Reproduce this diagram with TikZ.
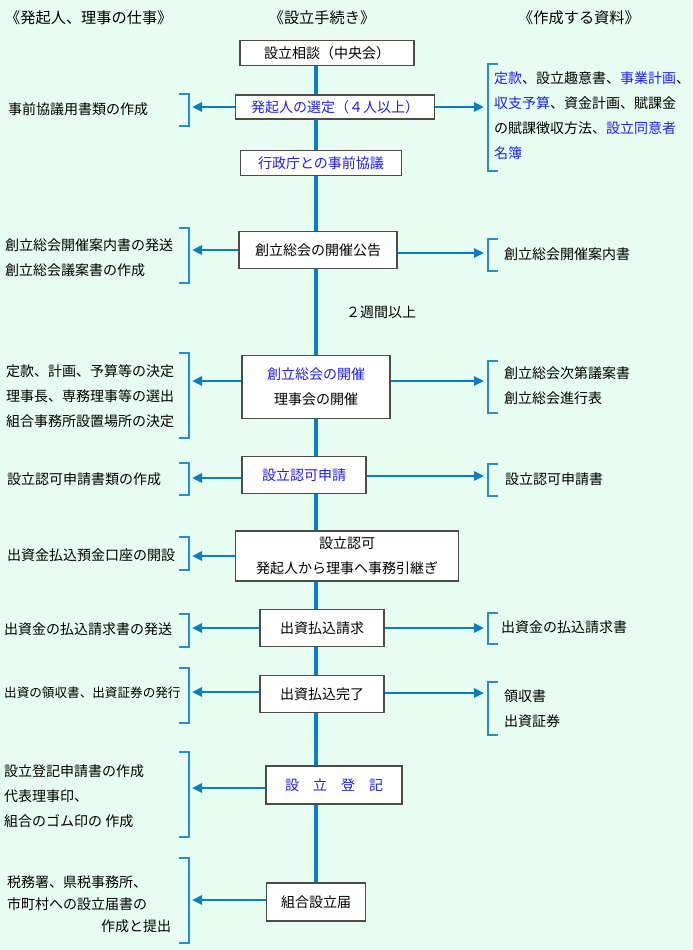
\documentclass[tikz,border=0pt]{standalone}
\usepackage{fontspec}
\setmainfont{Noto Sans CJK JP}
\usetikzlibrary{arrows.meta, backgrounds}

\definecolor{bgmint}{RGB}{232,253,242}
\definecolor{flowblue}{RGB}{8,126,200}
\definecolor{brblue}{RGB}{40,140,210}
\definecolor{jpblue}{RGB}{30,30,240}

\begin{document}
\begin{tikzpicture}[
  x=1pt, y=-1pt,
  font=\fontsize{14}{25}\selectfont,
  box/.style={rectangle, draw=black!70, line width=1.3pt, fill=white,
              align=center, inner sep=0pt},
  txt/.style={anchor=west, align=left, inner sep=0pt},
  head/.style={font=\fontsize{15.2}{18}\selectfont, inner sep=0pt},
  trunk/.style={draw=flowblue, line width=4pt},
  arr/.style={draw=flowblue, line width=2.5pt, -{Triangle[length=10pt,width=9pt]}},
  brl/.style={draw=brblue, line width=1.3pt},
]

% bounding box
\useasboundingbox (0,0) rectangle (693,950);

% ================= HEADINGS =================
\node[head, anchor=west] (hleft)  at (5,18)   {《発起人、理事の仕事》};
\node[head]              (hmid)   at (322,18) {《設立手続き》};
\node[head]              (hright) at (579,18) {《作成する資料》};

% ================= NODES (explicit coords, px) =================
\node[box, minimum width=174pt, minimum height=25pt] (soudan)   at (327,53)  {設立相談（中央会）};
\node[box, minimum width=199pt, minimum height=24pt, text=jpblue] (sentei) at (335,107) {発起人の選定（４人以上）};
\node[box, minimum width=161pt, minimum height=25pt, text=jpblue] (kyougi) at (321,163) {行政庁との事前協議};
\node[box, minimum width=158pt, minimum height=37pt] (koukoku)  at (318,250) {創立総会の開催公告};
\node[box, minimum width=148pt, minimum height=63pt] (kaisai)   at (316,387) {\textcolor{jpblue}{創立総会の開催}\\理事会の開催};
\node[box, minimum width=124pt, minimum height=37pt, text=jpblue] (shinsei) at (304,475) {設立認可申請};
\node[box, minimum width=223pt, minimum height=50pt] (ninka)    at (347,556) {設立認可\\発起人から理事へ事務引継ぎ};
\node[box, minimum width=124pt, minimum height=37pt] (seikyu)   at (322,628) {出資払込請求};
\node[box, minimum width=124pt, minimum height=37pt] (kanryo)   at (322,694) {出資払込完了};
\node[box, minimum width=136pt, minimum height=38pt, text=jpblue] (touki) at (334,785) {設　立　登　記};
\node[box, minimum width=99pt,  minimum height=38pt] (todoke)   at (316,902) {組合設立届};

\node[inner sep=0pt] (nishuu) at (381,312) {２週間以上};

% trunk ends
\coordinate (ttop) at (316,66);
\coordinate (tbot) at (316,883);

% ---- left column texts
\node[txt] (lsentei)  at (8,109) {事前協議用書類の作成};
\node[txt] (lkoukoku) at (5,258) {創立総会開催案内書の発送\\創立総会議案書の作成};
\node[txt] (lkaisai)  at (6,396) {定款、計画、予算等の決定\\理事長、専務理事等の選出\\組合事務所設置場所の決定};
\node[txt] (lshinsei) at (7,479) {設立認可申請書類の作成};
\node[txt] (lninka)   at (7,555) {出資金払込預金口座の開設};
\node[txt] (lseikyu)  at (4,629) {出資金の払込請求書の発送};
\node[txt, font=\fontsize{12.6}{25}\selectfont] (lkanryo) at (4,693) {出資の領収書、出資証券の発行};
\node[txt] (ltouki)   at (4,796) {設立登記申請書の作成\\代表理事印、\\組合のゴム印の 作成};
\node[txt, text width=164pt, font=\fontsize{14}{22}\selectfont] (ltodoke) at (7,904)
  {税務署、県税事務所、\\市町村への設立届書の\\\hspace*{\fill}作成と提出};

% ---- right column texts
\node[txt] (rsentei)  at (494,116) {\textcolor{jpblue}{定款}、設立趣意書、\textcolor{jpblue}{事業計画}、\\\textcolor{jpblue}{収支予算}、資金計画、賦課金\\の賦課徴収方法、\textcolor{jpblue}{設立同意者}\\\textcolor{jpblue}{名簿}};
\node[txt] (rkoukoku) at (504,254) {創立総会開催案内書};
\node[txt] (rkaisai)  at (504,386) {創立総会次第議案書\\創立総会進行表};
\node[txt] (rshinsei) at (505,479) {設立認可申請書};
\node[txt] (rseikyu)  at (501,627) {出資金の払込請求書};
\node[txt] (rkanryo)  at (504,709) {領収書\\出資証券};

% ================= EDGES =================
\begin{scope}[on background layer]
  \fill[bgmint] (0,0) rectangle (693,950);
  \draw[trunk] (ttop) -- (tbot);
\end{scope}

% left brackets
\draw[brl] (179,94)  -- (189,94)  -- (189,126) -- (179,126);
\draw[brl] (179,228) -- (189,228) -- (189,283) -- (179,283);
\draw[brl] (179,353) -- (189,353) -- (189,438) -- (179,438);
\draw[brl] (179,463) -- (189,463) -- (189,495) -- (179,495);
\draw[brl] (179,537) -- (189,537) -- (189,570) -- (179,570);
\draw[brl] (179,614) -- (189,614) -- (189,647) -- (179,647);
\draw[brl] (179,668) -- (189,668) -- (189,723) -- (179,723);
\draw[brl] (179,752) -- (189,752) -- (189,837) -- (179,837);
\draw[brl] (179,858) -- (189,858) -- (189,943) -- (179,943);

% right brackets
\draw[brl] (498,64)  -- (488,64)  -- (488,171) -- (498,171);
\draw[brl] (498,239) -- (488,239) -- (488,271) -- (498,271);
\draw[brl] (498,361) -- (488,361) -- (488,413) -- (498,413);
\draw[brl] (498,464) -- (488,464) -- (488,496) -- (498,496);
\draw[brl] (498,613) -- (488,613) -- (488,644) -- (498,644);
\draw[brl] (498,682) -- (488,682) -- (488,735) -- (498,735);

% arrows to the left
\draw[arr] (sentei.west)  -- (192,107);
\draw[arr] (koukoku.west) -- (192,250);
\draw[arr] (kaisai.west |- 0,381) -- (192,381);
\draw[arr] (shinsei.west |- 0,478) -- (192,478);
\draw[arr] (ninka.west)   -- (192,556);
\draw[arr] (seikyu.west)  -- (192,628);
\draw[arr] (kanryo.west |- 0,692) -- (192,692);
\draw[arr] (touki.west |- 0,788) -- (192,788);
\draw[arr] (todoke.west |- 0,900) -- (192,900);

% arrows to the right
\draw[arr] (sentei.east)  -- (484,107);
\draw[arr] (koukoku.east |- 0,253) -- (484,253);
\draw[arr] (kaisai.east |- 0,381) -- (484,381);
\draw[arr] (shinsei.east |- 0,476) -- (484,476);
\draw[arr] (seikyu.east)  -- (484,628);
\draw[arr] (kanryo.east |- 0,693) -- (484,693);

\end{tikzpicture}
\end{document}
